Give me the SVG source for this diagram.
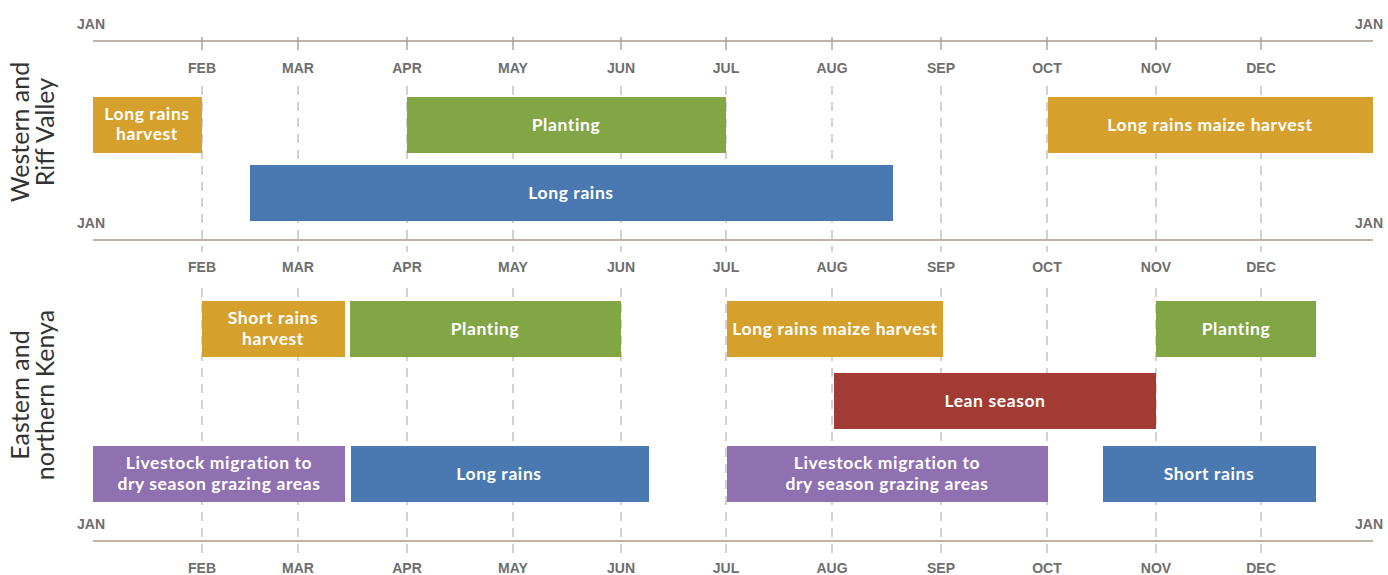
<svg xmlns="http://www.w3.org/2000/svg" width="1388" height="575" viewBox="0 0 1388 575">
<style>
.axis{stroke:#a99b8c;stroke-width:1.5;fill:none}
.tick{stroke:#a8a8a8;stroke-width:1.5}
.dash{stroke:#c4c4c4;stroke-width:1.5;stroke-dasharray:9,7;fill:none}
.m{font-family:"Liberation Sans",Arial,sans-serif;font-weight:bold;font-size:14px;fill:#6e6e6e;text-anchor:middle}
.j{font-family:"Liberation Sans",Arial,sans-serif;font-weight:bold;font-size:14px;fill:#6e6e6e}
.side{font-family:Lato,"Open Sans",sans-serif;font-size:25px;fill:#333;text-anchor:middle}
.lb{font-family:Lato,"Noto Sans",sans-serif;font-weight:bold;font-size:17.5px;letter-spacing:0.6px;fill:#fff;text-anchor:middle}
.gold{fill:#d5a02c}.green{fill:#82a546}.blue{fill:#4a78b0}.red{fill:#a23b34}.purple{fill:#8f70b0}
</style>
<g id="grid">
<path class="dash" d="M202,86V252M298,86V252M407,86V252M513,86V252M621,86V252M726,86V252M832,86V252M941,86V252M1047,86V252M1156,86V252M1261,86V252"/>
<path class="dash" d="M202,288V553M298,288V553M407,288V553M513,288V553M621,288V553M726,288V553M832,288V553M941,288V553M1047,288V553M1156,288V553M1261,288V553"/>
<path class="tick" d="M202,37V50M298,37V50M407,37V50M513,37V50M621,37V50M726,37V50M832,37V50M941,37V50M1047,37V50M1156,37V50M1261,37V50"/>
<path class="axis" d="M93,41H1373M93,240H1373M93,541H1373"/>
</g>
<g id="labels">
<text class="j" x="77" y="29">JAN</text>
<text class="j" x="1355" y="29">JAN</text>
<text class="j" x="77" y="228">JAN</text>
<text class="j" x="1355" y="228">JAN</text>
<text class="j" x="77" y="529">JAN</text>
<text class="j" x="1355" y="529">JAN</text>
<g id="months-top">
<text class="m" x="202" y="73">FEB</text><text class="m" x="298" y="73">MAR</text><text class="m" x="407" y="73">APR</text><text class="m" x="513" y="73">MAY</text><text class="m" x="621" y="73">JUN</text><text class="m" x="726" y="73">JUL</text><text class="m" x="832" y="73">AUG</text><text class="m" x="941" y="73">SEP</text><text class="m" x="1047" y="73">OCT</text><text class="m" x="1156" y="73">NOV</text><text class="m" x="1261" y="73">DEC</text>
</g>
<g id="months-mid">
<text class="m" x="202" y="272">FEB</text><text class="m" x="298" y="272">MAR</text><text class="m" x="407" y="272">APR</text><text class="m" x="513" y="272">MAY</text><text class="m" x="621" y="272">JUN</text><text class="m" x="726" y="272">JUL</text><text class="m" x="832" y="272">AUG</text><text class="m" x="941" y="272">SEP</text><text class="m" x="1047" y="272">OCT</text><text class="m" x="1156" y="272">NOV</text><text class="m" x="1261" y="272">DEC</text>
</g>
<g id="months-bot">
<text class="m" x="202" y="573">FEB</text><text class="m" x="298" y="573">MAR</text><text class="m" x="407" y="573">APR</text><text class="m" x="513" y="573">MAY</text><text class="m" x="621" y="573">JUN</text><text class="m" x="726" y="573">JUL</text><text class="m" x="832" y="573">AUG</text><text class="m" x="941" y="573">SEP</text><text class="m" x="1047" y="573">OCT</text><text class="m" x="1156" y="573">NOV</text><text class="m" x="1261" y="573">DEC</text>
</g>
<text class="side" transform="translate(33,132) rotate(-90)"><tspan x="0" y="-4">Western and</tspan><tspan x="0" y="21">Riff Valley</tspan></text>
<text class="side" transform="translate(33,395) rotate(-90)"><tspan x="0" y="-4">Eastern and</tspan><tspan x="0" y="21">northern Kenya</tspan></text>
</g>
<g id="w-harvest"><rect class="gold" x="93" y="97" width="109" height="56"/><text class="lb" x="147" y="120">Long rains</text><text class="lb" x="147" y="140">harvest</text></g>
<g id="w-planting"><rect class="green" x="407" y="97" width="319" height="56"/><text class="lb" x="566" y="131">Planting</text></g>
<g id="w-maize"><rect class="gold" x="1048" y="97" width="325" height="56"/><text class="lb" x="1210" y="131">Long rains maize harvest</text></g>
<g id="w-longrains"><rect class="blue" x="250" y="165" width="643" height="56"/><text class="lb" x="571" y="199">Long rains</text></g>
<g id="e-harvest"><rect class="gold" x="202" y="301" width="143" height="56"/><text class="lb" x="273" y="324">Short rains</text><text class="lb" x="273" y="345">harvest</text></g>
<g id="e-planting1"><rect class="green" x="350" y="301" width="271" height="56"/><text class="lb" x="485" y="335">Planting</text></g>
<g id="e-maize"><rect class="gold" x="727" y="301" width="216" height="56"/><text class="lb" x="835" y="335">Long rains maize harvest</text></g>
<g id="e-planting2"><rect class="green" x="1156" y="301" width="160" height="56"/><text class="lb" x="1236" y="335">Planting</text></g>
<g id="e-lean"><rect class="red" x="834" y="373" width="322" height="56"/><text class="lb" x="995" y="407">Lean season</text></g>
<g id="e-migration1"><rect class="purple" x="93" y="446" width="252" height="56"/><text class="lb" x="219" y="469">Livestock migration to</text><text class="lb" x="219" y="490">dry season grazing areas</text></g>
<g id="e-longrains"><rect class="blue" x="351" y="446" width="298" height="56"/><text class="lb" x="499" y="480">Long rains</text></g>
<g id="e-migration2"><rect class="purple" x="727" y="446" width="321" height="56"/><text class="lb" x="887" y="469">Livestock migration to</text><text class="lb" x="887" y="490">dry season grazing areas</text></g>
<g id="e-shortrains"><rect class="blue" x="1103" y="446" width="213" height="56"/><text class="lb" x="1209" y="480">Short rains</text></g>
</svg>
